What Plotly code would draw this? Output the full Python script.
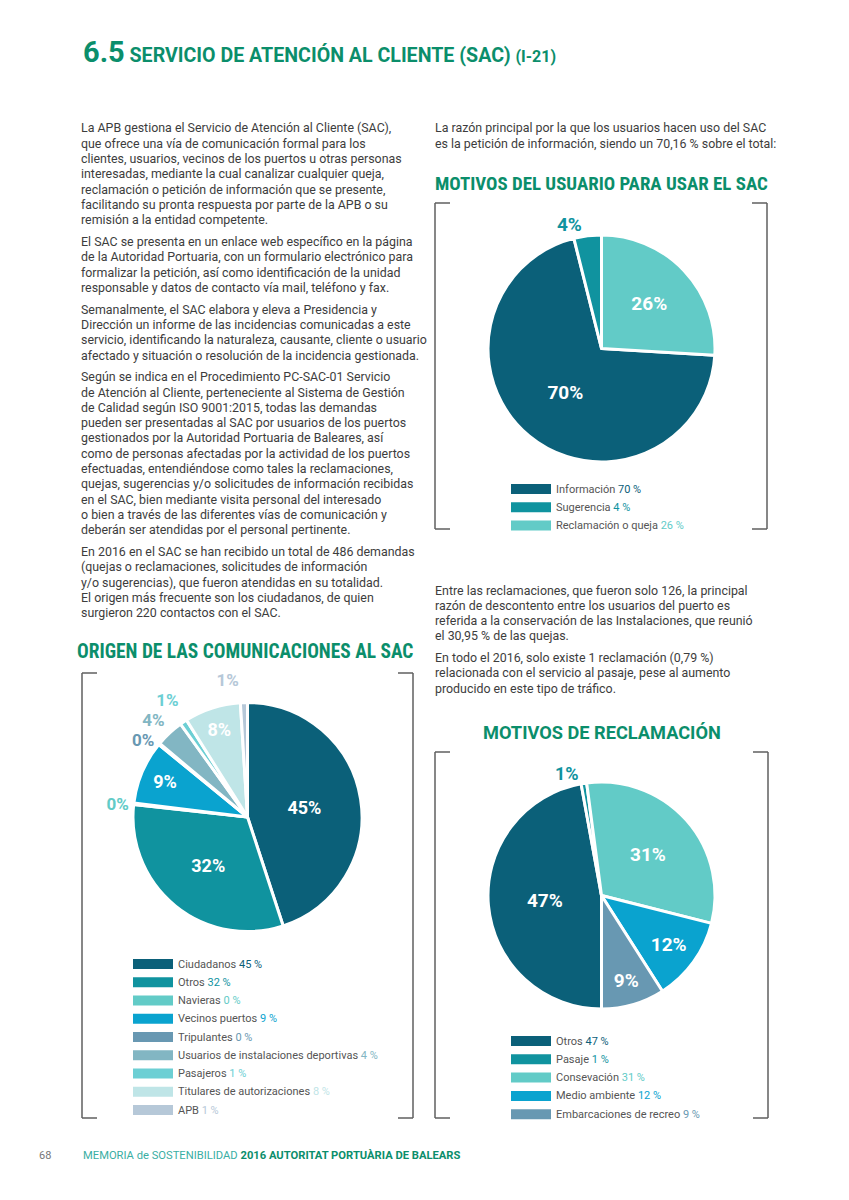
import plotly.graph_objects as go

# ---------------- data ----------------
motivos_labels = ["Información", "Sugerencia", "Reclamación o queja"]
motivos_values = [70.16, 3.91, 25.93]
motivos_colors = ["#0b6079", "#10939f", "#62cbc7"]

origen_labels = ["Ciudadanos", "Otros", "Navieras", "Vecinos puertos", "Tripulantes",
                 "Usuarios de instalaciones deportivas", "Pasajeros",
                 "Titulares de autorizaciones", "APB"]
origen_values = [45.27, 32, 0.2, 9, 0.2, 4, 1, 8, 1]
origen_colors = ["#0b6079", "#10939f", "#62cbc7", "#0aa3cf", "#6898b2",
                 "#82b6c3", "#6ccfd4", "#bfe5e7", "#b6c8d8"]

reclam_labels = ["Otros", "Pasaje", "Consevación", "Medio ambiente", "Embarcaciones de recreo"]
reclam_values = [47, 0.79, 30.95, 12, 9]
reclam_colors = ["#0b6079", "#10939f", "#62cbc7", "#0aa3cf", "#6898b2"]

left_paragraphs = [
    ["La APB gestiona el Servicio de Atención al Cliente (SAC),",
     "que ofrece una vía de comunicación formal para los",
     "clientes, usuarios, vecinos de los puertos u otras personas",
     "interesadas, mediante la cual canalizar cualquier queja,",
     "reclamación o petición de información que se presente,",
     "facilitando su pronta respuesta por parte de la APB o su",
     "remisión a la entidad competente."],
    ["El SAC se presenta en un enlace web específico en la página",
     "de la Autoridad Portuaria, con un formulario electrónico para",
     "formalizar la petición, así como identificación de la unidad",
     "responsable y datos de contacto vía mail, teléfono y fax."],
    ["Semanalmente, el SAC elabora y eleva a Presidencia y",
     "Dirección un informe de las incidencias comunicadas a este",
     "servicio, identificando la naturaleza, causante, cliente o usuario",
     "afectado y situación o resolución de la incidencia gestionada."],
    ["Según se indica en el Procedimiento PC-SAC-01 Servicio",
     "de Atención al Cliente, perteneciente al Sistema de Gestión",
     "de Calidad según ISO 9001:2015, todas las demandas",
     "pueden ser presentadas al SAC por usuarios de los puertos",
     "gestionados por la Autoridad Portuaria de Baleares, así",
     "como de personas afectadas por la actividad de los puertos",
     "efectuadas, entendiéndose como tales la reclamaciones,",
     "quejas, sugerencias y/o solicitudes de información recibidas",
     "en el SAC, bien mediante visita personal del interesado",
     "o bien a través de las diferentes vías de comunicación y",
     "deberán ser atendidas por el personal pertinente."],
    ["En 2016 en el SAC se han recibido un total de 486 demandas",
     "(quejas o reclamaciones, solicitudes de información",
     "y/o sugerencias), que fueron atendidas en su totalidad.",
     "El origen más frecuente son los ciudadanos, de quien",
     "surgieron 220 contactos con el SAC."],
]
right_top_paragraph = [
    "La razón principal por la que los usuarios hacen uso del SAC",
    "es la petición de información, siendo un 70,16 % sobre el total:"]
right_mid_paragraphs = [
    ["Entre las reclamaciones, que fueron solo 126, la principal",
     "razón de descontento entre los usuarios del puerto es",
     "referida a la conservación de las Instalaciones, que reunió",
     "el 30,95 % de las quejas."],
    ["En todo el 2016, solo existe 1 reclamación (0,79 %)",
     "relacionada con el servicio al pasaje, pese al aumento",
     "producido en este tipo de tráfico."],
]

# ---------------- layout helpers ----------------
W, H = 833, 1180   # figure size (page body has 8px margin)
OFF = 8


def X(p):
    return (p - OFF) / W


def Y(p):
    return 1 - (p - OFF) / H


GREEN = "#0b8e6b"
TEXT = "#3d3d3d"
BODY_FONT = "Roboto, 'DejaVu Sans', sans-serif"
HEAD_FONT = "'Liberation Sans Narrow', 'Roboto Condensed', Roboto, sans-serif"

fig = go.Figure()
annotations = []
shapes = []


def add_text(x, y, text, size, color=TEXT, family=BODY_FONT, xanchor="left", yanchor="middle"):
    annotations.append(dict(x=X(x), y=Y(y), xref="paper", yref="paper", text=text,
                            showarrow=False, xanchor=xanchor, yanchor=yanchor,
                            font=dict(size=size, color=color, family=family)))


def add_paragraphs(x, y0, paragraphs, line_h=15.3, para_gap=6.4, size=12.4):
    y = y0
    for para in paragraphs:
        for line in para:
            add_text(x, y, line, size)
            y += line_h
        y += para_gap
    return y


def add_pie(labels, values, colors, cx, cy, r, rotation, size_in, size_out):
    pos = ["inside" if v >= 5 else "outside" for v in values]
    tmpl = ["%{value:.0f}%" if p == "inside"
            else f"<span style='color:{c}'>%{{value:.0f}}%</span>"
            for p, c in zip(pos, colors)]
    fig.add_trace(go.Pie(
        labels=labels, values=values, sort=False, direction="clockwise",
        rotation=rotation,
        domain=dict(x=[X(cx - r), X(cx + r)], y=[Y(cy + r), Y(cy - r)]),
        marker=dict(colors=colors, line=dict(color="white", width=3)),
        texttemplate=tmpl, textposition=pos,
        insidetextorientation="horizontal",
        insidetextfont=dict(family=BODY_FONT, size=size_in, color="white", weight="bold"),
        outsidetextfont=dict(family=BODY_FONT, size=size_out, color="white", weight="bold"),
        showlegend=False, hoverinfo="label+percent"))


def add_legend(labels, values, colors, x0, y0, dy=18.3, size=11):
    for i, (lab, v, c) in enumerate(zip(labels, values, colors)):
        yc = y0 + i * dy
        shapes.append(dict(type="rect", xref="paper", yref="paper",
                           x0=X(x0), x1=X(x0 + 40), y0=Y(yc + 5), y1=Y(yc - 5),
                           fillcolor=c, line=dict(width=0)))
        add_text(x0 + 43, yc, f"{lab} <span style='color:{c}'>{v:.0f} %</span>", size,
                 color="#555555")


def add_bracket(xl, xr, yt, yb, tick=15):
    for xx, sgn in ((xl, 1), (xr, -1)):
        for path in ([(xx, yt), (xx, yb)], [(xx, yt), (xx + sgn * tick, yt)],
                     [(xx, yb), (xx + sgn * tick, yb)]):
            shapes.append(dict(type="line", xref="paper", yref="paper",
                               x0=X(path[0][0]), y0=Y(path[0][1]),
                               x1=X(path[1][0]), y1=Y(path[1][1]),
                               line=dict(color="#5f5f5f", width=1.5)))


# ---------------- title ----------------
add_text(81, 52,
         "<b><span style='font-size:29px'>6.5</span> SERVICIO DE ATENCIÓN AL CLIENTE (SAC) "
         "<span style='font-size:16px'>(I-21)</span></b>",
         19.6, color=GREEN, family=BODY_FONT)

# ---------------- body text ----------------
add_paragraphs(79, 128, left_paragraphs)
add_paragraphs(433, 128, [right_top_paragraph])
add_paragraphs(433, 590, right_mid_paragraphs)

# ---------------- chart 1 ----------------
add_text(601, 184, "<b>MOTIVOS DEL USUARIO PARA USAR EL SAC</b>", 18.9, color=GREEN,
         family=HEAD_FONT, xanchor="center")
add_bracket(435, 767, 203, 529)
add_pie(motivos_labels, motivos_values, motivos_colors, 601.5, 348.5, 113.5,
        360 * motivos_values[2] / sum(motivos_values), 19, 19)
add_legend(motivos_labels, motivos_values, motivos_colors, 511, 489)

# ---------------- chart 2 ----------------
add_text(245, 652, "<b>ORIGEN DE LAS COMUNICACIONES AL SAC</b>", 19.4, color=GREEN,
         family=HEAD_FONT, xanchor="center")
add_bracket(82, 413, 673, 1118)
add_pie(origen_labels, origen_values, origen_colors, 247.5, 817, 114.5, 0, 18, 17)
add_legend(origen_labels, origen_values, origen_colors, 133, 964, dy=18.25)

# ---------------- chart 3 ----------------
add_text(602, 732, "<b>MOTIVOS DE RECLAMACIÓN</b>", 18.2, color=GREEN,
         family=BODY_FONT, xanchor="center")
add_bracket(435, 768, 752, 1118)
add_pie(reclam_labels, reclam_values, reclam_colors, 601.5, 895.5, 113.5, 180, 19, 18)
add_legend(reclam_labels, reclam_values, reclam_colors, 511, 1041)

# ---------------- footer ----------------
add_text(45, 1155, "68", 11, color="#777777", xanchor="center")
add_text(81, 1155,
         "<span style='color:#3aaea3'>MEMORIA de SOSTENIBILIDAD</span> "
         f"<b><span style='color:{GREEN}'>2016 AUTORITAT PORTUÀRIA DE BALEARS</span></b>",
         11.2)

fig.update_layout(width=W, height=H, margin=dict(l=0, r=0, t=0, b=0),
                  paper_bgcolor="white", plot_bgcolor="white",
                  showlegend=False, annotations=annotations, shapes=shapes)

fig.write_html("out.html")
